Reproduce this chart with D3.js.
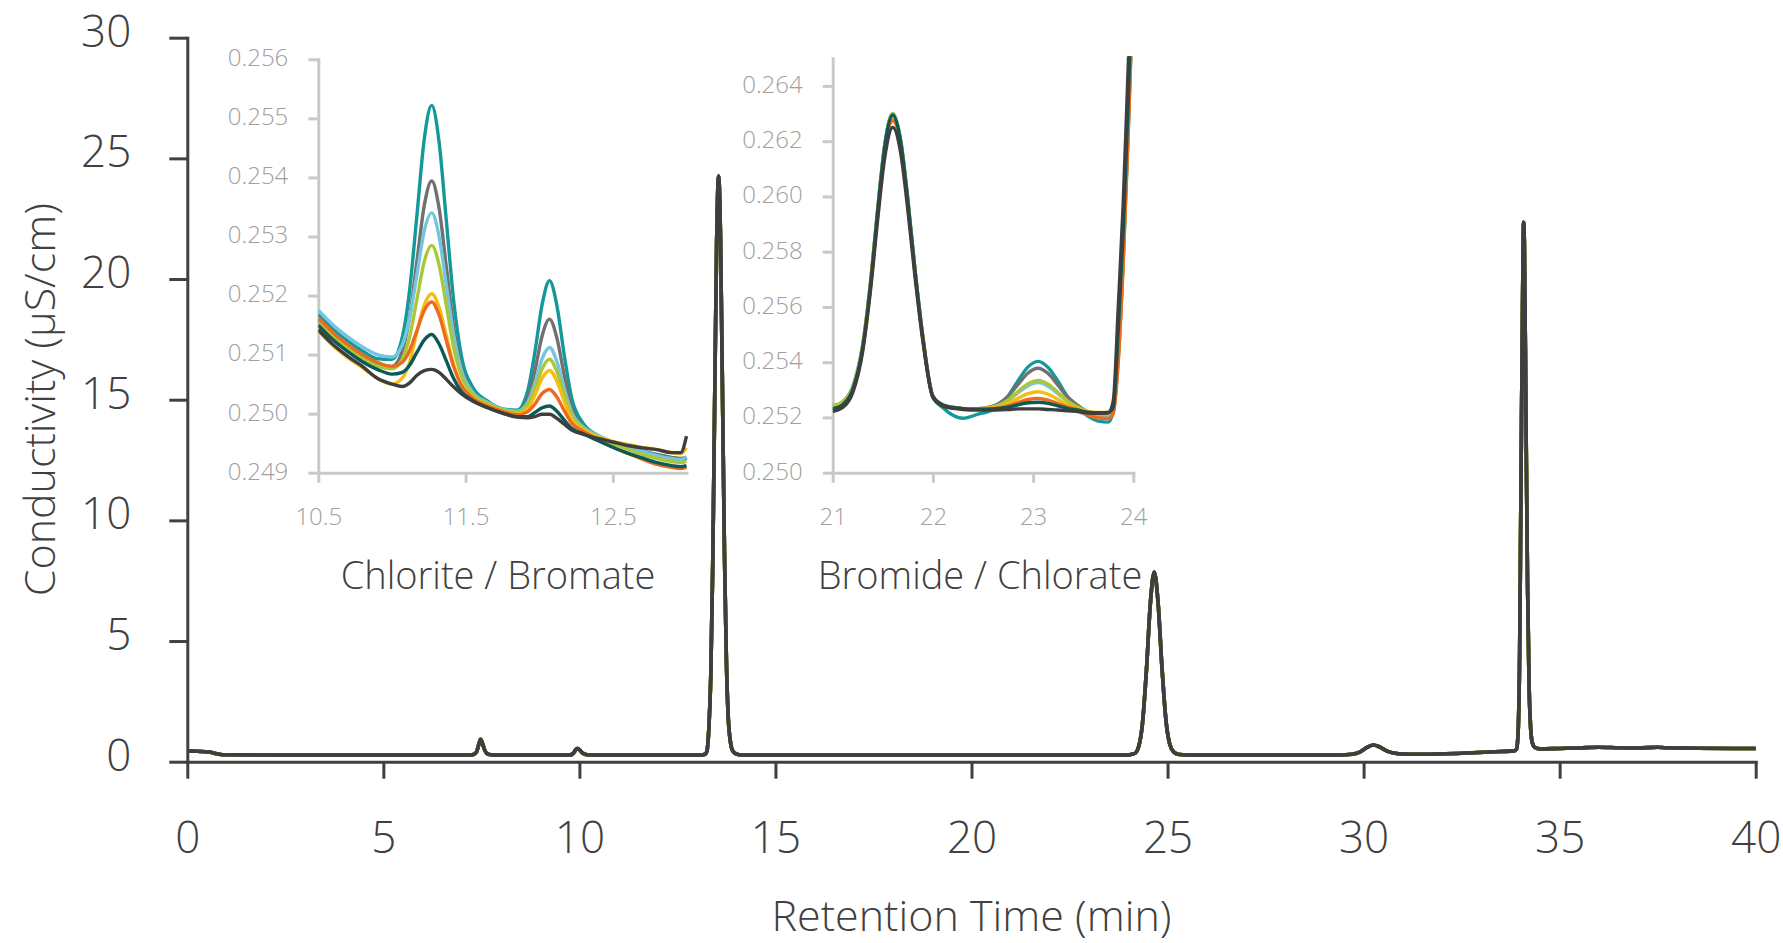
<!DOCTYPE html>
<html>
<head>
<meta charset="utf-8">
<script src="https://cdn.jsdelivr.net/npm/d3@7"></script>
<style>
  html, body { margin: 0; padding: 0; background: #fff; }
  svg { display: block; font-family: "Open Sans", "Noto Sans", sans-serif; }
</style>
</head>
<body>
<svg id="chart" width="1783" height="943"></svg>
<script>
// ---------- data ----------
const seriesNames = ["std 8", "std 7", "std 6", "std 5", "std 4", "std 3", "std 2", "std 1"];
const seriesColors = ["#14999a", "#717171", "#74c5df", "#a9c736", "#f5bd12", "#ee6a1e", "#0b5a55", "#3e3e3e"];

// full chromatogram (min, µS/cm)
const mainTime = [0.0, 0.25, 0.55, 0.75, 0.9, 2.0, 7.2, 7.3, 7.38, 7.44, 7.48, 7.52, 7.58, 7.66, 7.8,
  9.75, 9.84, 9.91, 9.95, 10.0, 10.08, 10.2, 10.4, 13.1, 13.2, 13.25, 13.3, 13.35, 13.4, 13.45, 13.5,
  13.55, 13.6, 13.65, 13.7, 13.75, 13.8, 13.85, 13.9, 14.0, 14.15, 24.0, 24.06, 24.16, 24.26, 24.36,
  24.46, 24.56, 24.66, 24.76, 24.86, 24.96, 25.06, 25.16, 25.3, 25.5, 29.4, 29.7, 29.9, 30.1, 30.25,
  30.4, 30.6, 30.8, 31.0, 31.5, 32.5, 33.5, 33.85, 33.9, 33.94, 33.98, 34.02, 34.06, 34.08, 34.1,
  34.14, 34.18, 34.22, 34.26, 34.3, 34.36, 34.5, 35.0, 35.5, 36.0, 36.5, 37.0, 37.5, 37.7, 38.5, 39.5, 40.0];
const mainSignal = [0.45, 0.43, 0.40, 0.33, 0.29, 0.28, 0.28, 0.30, 0.42, 0.75, 0.93, 0.80, 0.50, 0.32, 0.28,
  0.28, 0.34, 0.50, 0.55, 0.50, 0.36, 0.29, 0.28, 0.28, 0.31, 0.42, 1.34, 3.5, 8.1, 14.9, 21.5,
  24.27, 21.6, 15.2, 8.6, 4.1, 1.7, 0.85, 0.48, 0.32, 0.28, 0.28, 0.30, 0.34, 0.61, 1.58,
  3.75, 6.52, 7.86, 6.55, 3.85, 1.7, 0.7, 0.4, 0.3, 0.28, 0.28, 0.31, 0.40, 0.60, 0.69,
  0.62, 0.44, 0.35, 0.32, 0.31, 0.35, 0.42, 0.45, 0.52, 1.2, 4.5, 12.8, 20.0, 22.35, 21.5,
  14.5, 7.5, 3.2, 1.4, 0.8, 0.6, 0.53, 0.55, 0.57, 0.60, 0.58, 0.57, 0.60, 0.58, 0.56, 0.55, 0.55];
const mainXTicks = [0, 5, 10, 15, 20, 25, 30, 35, 40];
const mainYTicks = [0, 5, 10, 15, 20, 25, 30];

// chlorite / bromate window
const chlTime = [10.5, 10.6, 10.7, 10.8, 10.9, 11.0, 11.07, 11.12, 11.17, 11.22, 11.27, 11.32, 11.37, 11.42,
  11.47, 11.55, 11.65, 11.75, 11.85, 11.92, 11.97, 12.02, 12.07, 12.12, 12.17, 12.22, 12.3, 12.4, 12.5,
  12.6, 12.7, 12.8, 12.9, 12.96, 13.0];
const chlStd8 = [0.25168,0.25143,0.25123,0.25106,0.25093,0.25092,0.25129,0.25209,0.25337,0.25466,0.25522,0.25460,0.25325,0.25189,0.25100,0.25044,0.25021,0.25008,0.25006,0.25037,0.25103,0.25185,0.25225,0.25183,0.25099,0.25027,0.24983,0.24963,0.24951,0.24942,0.24934,0.24927,0.24922,0.24920,0.24925];
const chlStd7 = [0.25158,0.25133,0.25113,0.25096,0.25083,0.25080,0.25106,0.25164,0.25259,0.25353,0.25394,0.25348,0.25247,0.25145,0.25079,0.25036,0.25016,0.25005,0.25002,0.25024,0.25072,0.25132,0.25160,0.25128,0.25065,0.25011,0.24977,0.24961,0.24951,0.24943,0.24937,0.24931,0.24926,0.24924,0.24926];
const chlStd6 = [0.25175,0.25150,0.25130,0.25113,0.25100,0.25096,0.25116,0.25162,0.25236,0.25310,0.25340,0.25300,0.25216,0.25132,0.25075,0.25036,0.25019,0.25008,0.25004,0.25018,0.25051,0.25093,0.25112,0.25088,0.25042,0.25002,0.24977,0.24963,0.24952,0.24943,0.24936,0.24929,0.24924,0.24922,0.24927];
const chlStd5 = [0.25156,0.25131,0.25111,0.25094,0.25081,0.25076,0.25092,0.25130,0.25194,0.25258,0.25285,0.25252,0.25182,0.25111,0.25065,0.25033,0.25017,0.25007,0.25002,0.25014,0.25041,0.25076,0.25092,0.25071,0.25032,0.24997,0.24975,0.24961,0.24949,0.24940,0.24931,0.24924,0.24919,0.24917,0.24919];
const chlStd4 = [0.25140,0.25115,0.25095,0.25078,0.25060,0.25050,0.25060,0.25087,0.25139,0.25184,0.25203,0.25180,0.25131,0.25082,0.25049,0.25028,0.25014,0.25004,0.24999,0.25008,0.25031,0.25060,0.25073,0.25055,0.25021,0.24991,0.24972,0.24961,0.24953,0.24948,0.24943,0.24939,0.24934,0.24932,0.24942];
const chlStd3 = [0.25162,0.25137,0.25117,0.25100,0.25087,0.25080,0.25087,0.25107,0.25141,0.25175,0.25189,0.25167,0.25123,0.25079,0.25049,0.25026,0.25013,0.25004,0.24998,0.25003,0.25016,0.25034,0.25041,0.25028,0.25005,0.24984,0.24970,0.24956,0.24943,0.24933,0.24923,0.24914,0.24909,0.24907,0.24909];
const chlStd2 = [0.25150,0.25125,0.25105,0.25088,0.25075,0.25067,0.25070,0.25082,0.25104,0.25125,0.25134,0.25118,0.25089,0.25059,0.25038,0.25022,0.25010,0.25001,0.24995,0.24995,0.25002,0.25010,0.25013,0.25004,0.24989,0.24975,0.24966,0.24954,0.24943,0.24933,0.24925,0.24917,0.24912,0.24910,0.24912];
const chlStd1 = [0.25142,0.25117,0.25097,0.25080,0.25060,0.25050,0.25046,0.25052,0.25065,0.25073,0.25075,0.25070,0.25058,0.25045,0.25034,0.25021,0.25010,0.25001,0.24994,0.24993,0.24995,0.24999,0.24999,0.24992,0.24982,0.24972,0.24965,0.24958,0.24952,0.24946,0.24942,0.24939,0.24934,0.24934,0.24962];
const chlXTicks = [10.5, 11.5, 12.5];
const chlYTicks = [0.249, 0.250, 0.251, 0.252, 0.253, 0.254, 0.255, 0.256];

// bromide / chlorate window
const broTime = [21.0, 21.1, 21.2, 21.3, 21.38, 21.45, 21.52, 21.6, 21.68, 21.75, 21.82, 21.9, 22.0, 22.1,
  22.2, 22.3, 22.45, 22.6, 22.75, 22.85, 22.95, 23.05, 23.15, 23.25, 23.35, 23.45, 23.55, 23.65, 23.75,
  23.8, 23.85, 23.9, 23.95, 24.0];
const broStd8 = [0.25242,0.25257,0.25312,0.25465,0.25700,0.25959,0.26189,0.26300,0.26200,0.25988,0.25740,0.25491,0.25276,0.25235,0.25208,0.25197,0.25212,0.25229,0.25277,0.25333,0.25383,0.25403,0.25381,0.25330,0.25272,0.25232,0.25204,0.25187,0.25183,0.25222,0.25420,0.25780,0.26250,0.26800];
const broStd7 = [0.25227,0.25242,0.25296,0.25451,0.25686,0.25945,0.26174,0.26285,0.26186,0.25977,0.25732,0.25486,0.25276,0.25245,0.25236,0.25232,0.25232,0.25241,0.25277,0.25320,0.25361,0.25378,0.25359,0.25316,0.25272,0.25243,0.25220,0.25214,0.25213,0.25235,0.25520,0.25880,0.26350,0.26900];
const broStd6 = [0.25227,0.25242,0.25297,0.25452,0.25688,0.25948,0.26178,0.26290,0.26191,0.25981,0.25735,0.25487,0.25276,0.25244,0.25236,0.25232,0.25231,0.25237,0.25261,0.25289,0.25315,0.25326,0.25313,0.25285,0.25256,0.25221,0.25210,0.25206,0.25206,0.25222,0.25420,0.25780,0.26250,0.26800];
const broStd5 = [0.25242,0.25257,0.25309,0.25462,0.25698,0.25957,0.26187,0.26300,0.26200,0.25988,0.25739,0.25490,0.25277,0.25245,0.25236,0.25232,0.25231,0.25238,0.25263,0.25294,0.25322,0.25334,0.25320,0.25290,0.25258,0.25237,0.25221,0.25216,0.25216,0.25222,0.25420,0.25780,0.26250,0.26800];
const broStd4 = [0.25237,0.25252,0.25304,0.25457,0.25690,0.25947,0.26174,0.26285,0.26186,0.25977,0.25732,0.25486,0.25276,0.25245,0.25236,0.25232,0.25231,0.25234,0.25250,0.25269,0.25286,0.25293,0.25284,0.25265,0.25245,0.25231,0.25221,0.25218,0.25218,0.25235,0.25520,0.25880,0.26350,0.26900];
const broStd3 = [0.25227,0.25242,0.25296,0.25449,0.25682,0.25938,0.26165,0.26275,0.26177,0.25970,0.25727,0.25484,0.25276,0.25244,0.25236,0.25232,0.25230,0.25232,0.25242,0.25254,0.25265,0.25269,0.25263,0.25250,0.25237,0.25228,0.25208,0.25199,0.25196,0.25215,0.25400,0.25760,0.26230,0.26780];
const broStd2 = [0.25232,0.25247,0.25301,0.25455,0.25690,0.25951,0.26183,0.26295,0.26195,0.25984,0.25737,0.25489,0.25276,0.25245,0.25236,0.25232,0.25230,0.25231,0.25237,0.25246,0.25253,0.25255,0.25251,0.25242,0.25232,0.25226,0.25219,0.25217,0.25218,0.25235,0.25520,0.25880,0.26350,0.26900];
const broStd1 = [0.25222,0.25236,0.25290,0.25441,0.25669,0.25920,0.26142,0.26250,0.26154,0.25951,0.25714,0.25476,0.25272,0.25241,0.25233,0.25229,0.25227,0.25227,0.25229,0.25231,0.25231,0.25231,0.25229,0.25227,0.25224,0.25221,0.25216,0.25215,0.25217,0.25260,0.25600,0.25980,0.26480,0.27000];
const broXTicks = [21, 22, 23, 24];
const broYTicks = [0.250, 0.252, 0.254, 0.256, 0.258, 0.260, 0.262, 0.264];

const chlSeries = [chlStd8, chlStd7, chlStd6, chlStd5, chlStd4, chlStd3, chlStd2, chlStd1];
const broSeries = [broStd8, broStd7, broStd6, broStd5, broStd4, broStd3, broStd2, broStd1];

// ---------- drawing ----------
const svg = d3.select("#chart");
const ink = "#404040";
const insetInk = "#c9c9c9";
const insetText = "#a0a0a0";
const FONT_W = 300;

const zip = (xs, ys) => xs.map((x, i) => [x, ys[i]]);

// main panel
const xMain = d3.scaleLinear().domain([0, 40]).range([187.3, 1755.7]);
const yMain = d3.scaleLinear().domain([0, 30]).range([761.7, 37.7]);

const lineMain = d3.line().x(d => xMain(d[0])).y(d => yMain(d[1])).curve(d3.curveMonotoneX);
const mainPts = zip(mainTime, mainSignal);
svg.append("g").selectAll("path")
  .data(seriesNames)
  .join("path")
  .attr("d", () => lineMain(mainPts))
  .attr("fill", "none")
  .attr("stroke", (d, i) => seriesColors[i])
  .attr("stroke-width", 3.6)
  .attr("stroke-linejoin", "round");

function styleAxis(g, color, width, textColor, size) {
  g.select(".domain").attr("stroke", color).attr("stroke-width", width).attr("stroke-linecap", "square");
  g.selectAll(".tick line").attr("stroke", color).attr("stroke-width", width);
  g.selectAll(".tick text")
    .attr("fill", textColor)
    .style("font-size", size + "px")
    .style("font-weight", FONT_W)
    .style("font-family", '"Open Sans", "Noto Sans", sans-serif');
}

const gxMain = svg.append("g")
  .attr("transform", `translate(0,${yMain(0)})`)
  .call(d3.axisBottom(xMain).tickValues(mainXTicks).tickSize(17).tickSizeOuter(0).tickFormat(d3.format("d")));
styleAxis(gxMain, ink, 3, ink, 44);
gxMain.selectAll(".tick text").attr("y", 76).attr("dy", "0.35em");

const gyMain = svg.append("g")
  .attr("transform", `translate(${xMain(0)},0)`)
  .call(d3.axisLeft(yMain).tickValues(mainYTicks).tickSize(18).tickSizeOuter(0).tickFormat(d3.format("d")));
styleAxis(gyMain, ink, 3, ink, 44);
gyMain.selectAll(".tick text").attr("x", -56).attr("y", -7).attr("dy", "0.35em");

svg.append("text")
  .attr("x", (xMain(0) + xMain(40)) / 2).attr("y", 916).attr("dy", "0.35em")
  .attr("text-anchor", "middle").attr("fill", ink)
  .style("font-size", "43px").style("font-weight", FONT_W)
  .text("Retention Time (min)");

svg.append("text")
  .attr("transform", `translate(40,${(yMain(0) + yMain(30)) / 2}) rotate(-90)`)
  .attr("dy", "0.35em")
  .attr("text-anchor", "middle").attr("fill", ink)
  .style("font-size", "43px").style("font-weight", FONT_W)
  .text("Conductivity (µS/cm)");

// inset panels
function drawInset(cfg) {
  const x = d3.scaleLinear().domain(cfg.xDomain).range(cfg.xRange);
  const y = d3.scaleLinear().domain(cfg.yDomain).range(cfg.yRange);
  const g = svg.append("g");

  const clipId = "clip-" + cfg.id;
  svg.append("defs").append("clipPath").attr("id", clipId)
    .append("rect")
    .attr("x", cfg.xRange[0]).attr("y", cfg.yRange[1] - 2)
    .attr("width", cfg.xRange[1] - cfg.xRange[0] + 4)
    .attr("height", cfg.yRange[0] - cfg.yRange[1] + 2);

  const gx = g.append("g")
    .attr("transform", `translate(0,${cfg.yRange[0]})`)
    .call(d3.axisBottom(x).tickValues(cfg.xTicks).tickSize(10).tickSizeOuter(0).tickFormat(d3.format(cfg.xFormat)));
  styleAxis(gx, insetInk, 3, insetText, 24);
  gx.selectAll(".tick text").attr("y", 44).attr("dy", "0.35em");

  const gy = g.append("g")
    .attr("transform", `translate(${cfg.xRange[0]},0)`)
    .call(d3.axisLeft(y).tickValues(cfg.yTicks).tickSize(10).tickSizeOuter(0).tickFormat(d3.format(".3f")));
  styleAxis(gy, insetInk, 3, insetText, 24);
  gy.selectAll(".tick text").attr("x", -30).attr("y", -2).attr("dy", "0.35em");

  const line = d3.line().x(d => x(d[0])).y(d => y(d[1])).curve(d3.curveMonotoneX);
  g.append("g").attr("clip-path", `url(#${clipId})`)
    .selectAll("path")
    .data(cfg.series)
    .join("path")
    .attr("d", s => line(zip(cfg.time, s)))
    .attr("fill", "none")
    .attr("stroke", (d, i) => seriesColors[i])
    .attr("stroke-width", 3.4)
    .attr("stroke-linejoin", "round");

  g.append("text")
    .attr("x", cfg.titleX).attr("y", 576).attr("dy", "0.35em")
    .attr("text-anchor", "middle").attr("fill", ink)
    .style("font-size", "38px").style("font-weight", FONT_W)
    .text(cfg.title);
}

drawInset({
  id: "chl", time: chlTime, series: chlSeries,
  xDomain: [10.5, 13.0], xRange: [318.3, 686.5],
  yDomain: [0.249, 0.256], yRange: [472.7, 59.3],
  xTicks: chlXTicks, yTicks: chlYTicks, xFormat: ".1f",
  title: "Chlorite / Bromate", titleX: 498
});

drawInset({
  id: "bro", time: broTime, series: broSeries,
  xDomain: [21, 24], xRange: [832.7, 1133.3],
  yDomain: [0.250, 0.265], yRange: [472.7, 58.3],
  xTicks: broXTicks, yTicks: broYTicks, xFormat: "d",
  title: "Bromide / Chlorate", titleX: 980
});
</script>
</body>
</html>
